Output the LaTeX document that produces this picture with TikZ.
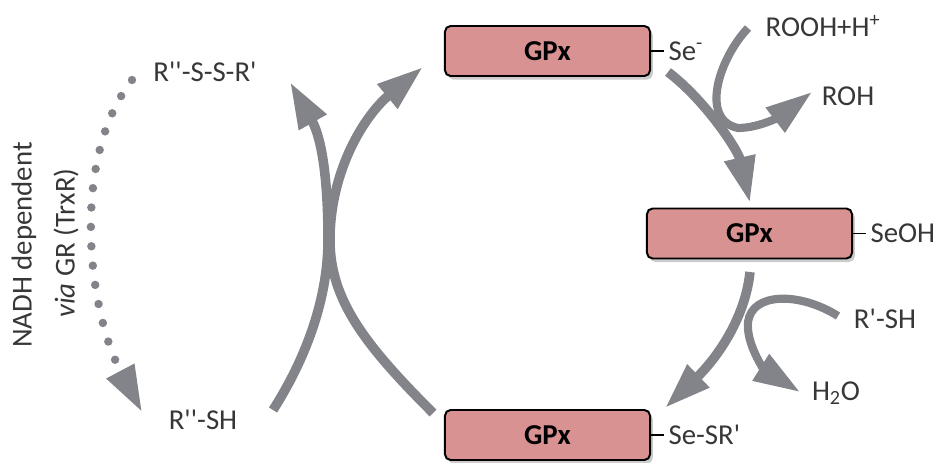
\documentclass[tikz,border=0pt]{standalone}
\usepackage{fontspec}
\setmainfont{Carlito}
\usetikzlibrary{arrows.meta,positioning,shadows}

\definecolor{gpxfill}{RGB}{217,146,146}
\definecolor{flowgray}{RGB}{130,132,137}
\definecolor{labeltext}{RGB}{55,55,55}

\tikzset{
  enzyme/.style={draw=black, line width=1.4pt, fill=gpxfill, rounded corners=4pt,
    minimum width=5.125cm, minimum height=1.25cm,
    font=\bfseries\fontsize{20.5}{24}\selectfont,
    drop shadow={shadow xshift=2pt, shadow yshift=-2.5pt, fill=black, opacity=.2}},
  chem/.style={text=labeltext, font=\fontsize{20.5}{24}\selectfont, inner sep=1pt},
  tag/.style={chem, inner xsep=3pt},
  tick/.style={draw=black, line width=1pt},
  flow/.style={draw=flowgray, line width=6.8pt, -{Triangle[length=33pt,width=21pt]}},
  side/.style={flow, line width=5.8pt},
  dots/.style={draw=flowgray, line width=6pt, line cap=round, dash pattern=on 0pt off 13.8pt,
    -{Triangle[length=33pt,width=21pt]}},
}

\begin{document}
\begin{tikzpicture}[x=0.025cm, y=-0.025cm]
\useasboundingbox (0,0) rectangle (942,462);

% the three enzyme states
\node[enzyme] (gpxA) at (547.5,51) {GPx};
\node[enzyme] (gpxB) at (749.5,233.5) {GPx};
\node[enzyme] (gpxC) at (547.5,435) {GPx};

% selenium groups on the enzyme
\node[tag, right=0.325cm of gpxA] (seA) {Se\textsuperscript{-}};
\node[tag, right=0.325cm of gpxB] (seB) {SeOH};
\node[tag, right=0.325cm of gpxC] (seC) {Se-SR\textquotesingle};
\draw[tick] (gpxA.east) -- (seA.west);
\draw[tick] (gpxB.east) -- (seB.west);
\draw[tick] (gpxC.east) -- (seC.west);

% substrates and products
\node[chem] (rooh) at (823,26) {ROOH+H\textsuperscript{+}};
\node[chem] (roh) at (848,96) {ROH};
\node[chem] (rsh) at (885,319) {R\textquotesingle-SH};
\node[chem] (water) at (836,393) {H\textsubscript{2}O};
\node[chem] (disulf) at (205,72) {R\textquotesingle\textquotesingle-S-S-R\textquotesingle};
\node[chem] (thiol) at (203,420) {R\textquotesingle\textquotesingle-SH};
\node[chem, rotate=90] (nadh) at (24,245) {NADH dependent};
\node[chem, rotate=90] (via) at (66,243) {\textit{via} GR (TrxR)};

% free ends of the reaction arrows
\coordinate (aOut) at (668,72);
\coordinate (aIn) at (750,203);
\coordinate (bOut) at (750,272);
\coordinate (bIn) at (665,408);
\coordinate (perox) at (748,28);
\coordinate (alc) at (812,92);
\coordinate (thiolIn) at (838,316);
\coordinate (watOut) at (800,392);
\coordinate (xLeftA) at (273,410);
\coordinate (xLeftB) at (290,82);
\coordinate (xRightA) at (433,413);
\coordinate (xRightB) at (423,67);
\coordinate (dotA) at (132,80);
\coordinate (dotB) at (142,412);

% peroxide reduction
\draw[flow] (aOut) .. controls (705,100) and (738,150) .. (aIn);
\draw[side] (perox) .. controls (718,60) and (700,120) .. (738,128)
  .. controls (760,128) and (782,115) .. (alc);

% thiol attack
\draw[flow] (bOut) .. controls (745,320) and (715,360) .. (bIn);
\draw[side] (thiolIn) .. controls (800,292) and (752,292) .. (748,322)
  .. controls (746,345) and (765,370) .. (watOut);

% regeneration of the enzyme
\draw[flow] (xLeftA) .. controls (305,360) and (328,300) .. (328,240)
  .. controls (328,170) and (320,135) .. (xLeftB);
\draw[flow] (xRightA) .. controls (365,345) and (330,300) .. (330,240)
  .. controls (330,170) and (365,115) .. (xRightB);

% recycling of the disulfide
\draw[dots] (dotA) .. controls (70,160) and (88,310) .. (dotB);
\end{tikzpicture}
\end{document}
